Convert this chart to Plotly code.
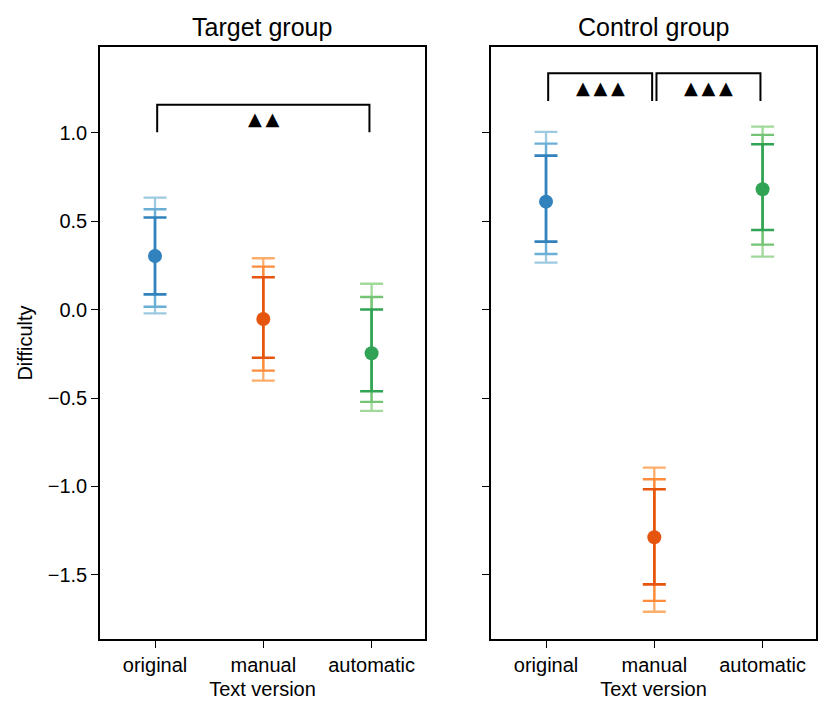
import plotly.graph_objects as go
from plotly.subplots import make_subplots

versions = ["original", "manual", "automatic"]
groups = ["Target group", "Control group"]

# posterior means and interval bounds (wide, middle, narrow) per group
target_mean = [0.303, -0.053, -0.247]
target_hi = {"wide": [0.633, 0.290, 0.146], "mid": [0.567, 0.243, 0.071], "narrow": [0.520, 0.183, 0.0]}
target_lo = {"wide": [-0.021, -0.402, -0.573], "mid": [0.016, -0.345, -0.522], "narrow": [0.086, -0.272, -0.462]}

control_mean = [0.610, -1.287, 0.680]
control_hi = {"wide": [1.004, -0.893, 1.034], "mid": [0.938, -0.959, 0.987], "narrow": [0.870, -1.016, 0.934]}
control_lo = {"wide": [0.265, -1.708, 0.299], "mid": [0.314, -1.646, 0.367], "narrow": [0.384, -1.553, 0.450]}

# significance brackets: (panel, x start, x end, bottom, top, label)
brackets = [
    (1, 0.02, 1.98, 1.002, 1.157, "▲\u2009▲"),
    (2, 0.02, 0.98, 1.179, 1.336, "▲\u2009▲\u2009▲"),
    (2, 1.02, 1.98, 1.179, 1.336, "▲\u2009▲\u2009▲"),
]

colors = {
    "wide": ["#9ecae1", "#fdae6b", "#a1d99b"],
    "mid": ["#6baed6", "#fd8d3c", "#74c476"],
    "narrow": ["#3182bd", "#e6550d", "#31a354"],
}

fig = make_subplots(rows=1, cols=2, shared_yaxes=True, horizontal_spacing=0.0922,
                    subplot_titles=groups)

panels = [(target_mean, target_hi, target_lo), (control_mean, control_hi, control_lo)]
for col, (mean, hi, lo) in enumerate(panels, start=1):
    for i, v in enumerate(versions):
        for level in ["wide", "mid", "narrow"]:
            c = colors[level][i]
            fig.add_trace(go.Scatter(
                x=[i], y=[mean[i]], mode="markers",
                marker=dict(size=14 if level == "narrow" else 1, color=c,
                            opacity=1 if level == "narrow" else 0),
                error_y=dict(type="data", symmetric=False,
                             array=[hi[level][i] - mean[i]],
                             arrayminus=[mean[i] - lo[level][i]],
                             color=c, thickness=2.6 if level == "narrow" else 2.3,
                             width=11.5),
                showlegend=False, hoverinfo="skip"), row=1, col=col)

for col, x0, x1, yb, yt, lab in brackets:
    fig.add_trace(go.Scatter(x=[x0, x0, x1, x1], y=[yb, yt, yt, yb], mode="lines",
                             line=dict(color="black", width=2),
                             showlegend=False, hoverinfo="skip"), row=1, col=col)
    fig.add_annotation(x=(x0 + x1) / 2, y=(yb + yt) / 2, text=lab, showarrow=False,
                       font=dict(size=18, color="black", family="DejaVu Sans"), row=1, col=col)

axis_common = dict(showline=True, linecolor="black", linewidth=1.6, mirror=True,
                   ticks="outside", ticklen=7, tickwidth=1.4, tickcolor="black", showgrid=False,
                   zeroline=False, tickfont=dict(size=20, color="black"))
for col in (1, 2):
    fig.update_xaxes(range=[-0.508, 2.493], tickvals=[0, 1, 2], ticktext=versions,
                     title=dict(text="Text version", font=dict(size=20, color="black"), standoff=7),
                     row=1, col=col, **axis_common)
    fig.update_yaxes(range=[-1.862, 1.484], tickvals=[-1.5, -1.0, -0.5, 0.0, 0.5, 1.0],
                     ticktext=["\u22121.5", "\u22121.0", "\u22120.5", "0.0", "0.5", "1.0"],
                     row=1, col=col, **axis_common)
fig.update_yaxes(title=dict(text="Difficulty", font=dict(size=20, color="black"), standoff=10),
                 row=1, col=1)
fig.update_yaxes(showticklabels=False, row=1, col=2)

for a in fig.layout.annotations[:2]:
    a.font = dict(size=25, color="black")
    a.yshift = 4

fig.update_layout(width=831, height=718, plot_bgcolor="white", paper_bgcolor="white",
                  margin=dict(l=92, r=23, t=39, b=87),
                  font=dict(family="Liberation Sans, Arial, sans-serif", color="black"))
fig.write_html("out.html")
